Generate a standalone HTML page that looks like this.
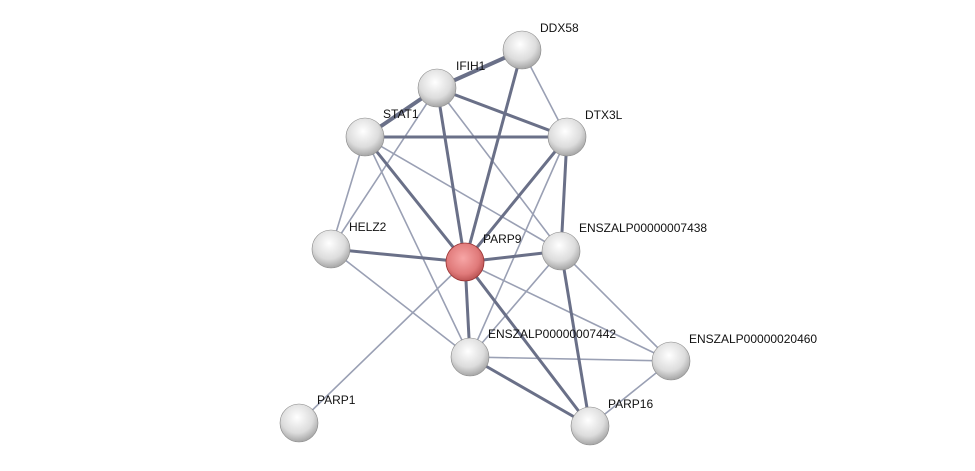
<!DOCTYPE html>
<html><head><style>body{margin:0;background:#fff}svg{display:block}text{font-family:"Liberation Sans",sans-serif;font-size:12px;fill:#111}</style></head>
<body>
<svg width="975" height="471" xmlns="http://www.w3.org/2000/svg">
<defs>
<radialGradient id="g" cx="0.45" cy="0.35" r="0.7"><stop offset="0" stop-color="#fff"/><stop offset="0.6" stop-color="#dcdcdc"/><stop offset="1" stop-color="#9a9a9a"/></radialGradient>
<radialGradient id="r" cx="0.45" cy="0.4" r="0.7"><stop offset="0" stop-color="#f7a6a6"/><stop offset="0.6" stop-color="#e07a7a"/><stop offset="1" stop-color="#a84040"/></radialGradient>
</defs>
<g stroke-linecap="round">
<g stroke="#9aa0b4" stroke-width="1.6">
<line x1="522" y1="50" x2="567" y2="137"/>
<line x1="437" y1="88" x2="331" y2="249"/>
<line x1="437" y1="88" x2="561" y2="251"/>
<line x1="365" y1="137" x2="331" y2="249"/>
<line x1="365" y1="137" x2="470" y2="357"/>
<line x1="365" y1="137" x2="561" y2="251"/>
<line x1="331" y1="249" x2="470" y2="357"/>
<line x1="465" y1="262" x2="299" y2="423"/>
<line x1="465" y1="262" x2="671" y2="361"/>
<line x1="561" y1="251" x2="671" y2="361"/>
<line x1="470" y1="357" x2="671" y2="361"/>
<line x1="671" y1="361" x2="590" y2="426"/>
<line x1="567" y1="137" x2="470" y2="357"/>
<line x1="561" y1="251" x2="470" y2="357"/>
</g>
<g stroke="#6a7088" stroke-width="3">
<line x1="437" y1="88" x2="522" y2="50" stroke-width="4"/>
<line x1="365" y1="137" x2="437" y2="88" stroke-width="4"/>
<line x1="437" y1="88" x2="567" y2="137"/>
<line x1="365" y1="137" x2="567" y2="137"/>
<line x1="522" y1="50" x2="465" y2="262"/>
<line x1="437" y1="88" x2="465" y2="262"/>
<line x1="365" y1="137" x2="465" y2="262"/>
<line x1="567" y1="137" x2="465" y2="262"/>
<line x1="567" y1="137" x2="561" y2="251"/>
<line x1="331" y1="249" x2="465" y2="262"/>
<line x1="465" y1="262" x2="561" y2="251"/>
<line x1="465" y1="262" x2="470" y2="357"/>
<line x1="465" y1="262" x2="590" y2="426"/>
<line x1="561" y1="251" x2="590" y2="426"/>
<line x1="470" y1="357" x2="590" y2="426"/>
</g>
</g>
<g>
<circle cx="522" cy="50" r="19" fill="url(#g)" stroke="#888" stroke-width=".6"/>
<circle cx="437" cy="88" r="19" fill="url(#g)" stroke="#888" stroke-width=".6"/>
<circle cx="365" cy="137" r="19" fill="url(#g)" stroke="#888" stroke-width=".6"/>
<circle cx="567" cy="137" r="19" fill="url(#g)" stroke="#888" stroke-width=".6"/>
<circle cx="331" cy="249" r="19" fill="url(#g)" stroke="#888" stroke-width=".6"/>
<circle cx="465" cy="262" r="19" fill="url(#r)" stroke="#933" stroke-width=".8"/>
<circle cx="561" cy="251" r="19" fill="url(#g)" stroke="#888" stroke-width=".6"/>
<circle cx="470" cy="357" r="19" fill="url(#g)" stroke="#888" stroke-width=".6"/>
<circle cx="671" cy="361" r="19" fill="url(#g)" stroke="#888" stroke-width=".6"/>
<circle cx="299" cy="423" r="19" fill="url(#g)" stroke="#888" stroke-width=".6"/>
<circle cx="590" cy="426" r="19" fill="url(#g)" stroke="#888" stroke-width=".6"/>
</g>
<text x="540" y="32">DDX58</text>
<text x="456" y="70">IFIH1</text>
<text x="383" y="118">STAT1</text>
<text x="585" y="119">DTX3L</text>
<text x="349" y="231">HELZ2</text>
<text x="483" y="243">PARP9</text>
<text x="579" y="232">ENSZALP00000007438</text>
<text x="488" y="338">ENSZALP00000007442</text>
<text x="689" y="343">ENSZALP00000020460</text>
<text x="317" y="404">PARP1</text>
<text x="608" y="408">PARP16</text>
</svg>
</body></html>
